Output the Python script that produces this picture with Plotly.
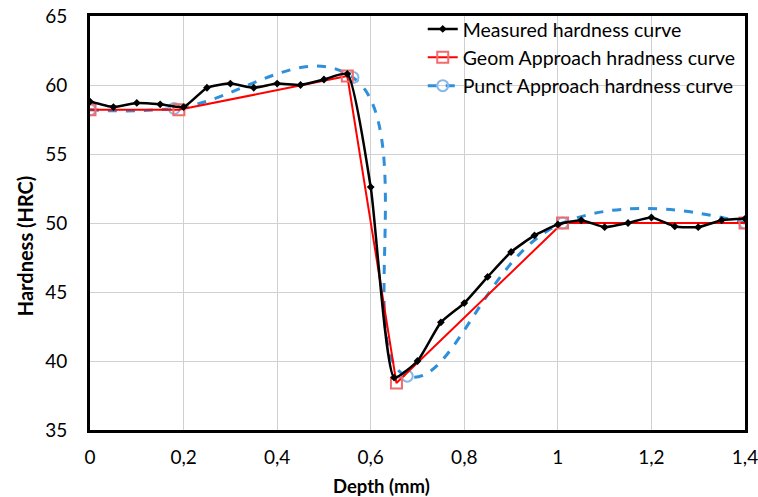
import plotly.graph_objects as go

# Measured hardness curve
meas_x = [0, 0.05, 0.1, 0.15, 0.2, 0.25, 0.3, 0.35, 0.4, 0.45, 0.5, 0.55, 0.6, 0.65,
          0.7, 0.75, 0.8, 0.85, 0.9, 0.95, 1.0, 1.05, 1.1, 1.15, 1.2, 1.25, 1.3, 1.35, 1.4]
meas_y = [58.8, 58.4, 58.7, 58.6, 58.4, 59.8, 60.1, 59.8, 60.1, 60.0, 60.4, 60.8, 52.6, 38.8,
          40.0, 42.8, 44.2, 46.1, 47.9, 49.1, 49.9, 50.2, 49.7, 50.0, 50.4, 49.75, 49.7, 50.2, 50.3]

# Geom approach
geom_x = [0, 0.19, 0.55, 0.655, 1.01, 1.4]
geom_y = [58.2, 58.2, 60.65, 38.4, 50.0, 50.0]

# Punct approach
punct_x = [0, 0.18, 0.562, 0.678, 1.01, 1.4]
punct_y = [58.2, 58.3, 60.55, 38.9, 50.0, 50.0]

x_ticks = [0, 0.2, 0.4, 0.6, 0.8, 1.0, 1.2, 1.4]
y_ticks = [35, 40, 45, 50, 55, 60, 65]

FONT = "Lato, 'Open Sans', sans-serif"

fig = go.Figure()
fig.add_trace(go.Scatter(
    x=punct_x, y=punct_y, name="Punct Approach hardness curve", mode="lines+markers",
    line=dict(color="#2F8FDA", width=3, dash="dash", shape="spline", smoothing=1.3),
    marker=dict(symbol="circle-open", size=11, color="#86B8E8", line=dict(width=2)),
    legendrank=3))
fig.add_trace(go.Scatter(
    x=geom_x, y=geom_y, name="Geom Approach hradness curve", mode="lines+markers",
    line=dict(color="#FF0000", width=2),
    marker=dict(symbol="square-open", size=11, color="#F26A6A", line=dict(width=2)),
    legendrank=2))
fig.add_trace(go.Scatter(
    x=meas_x, y=meas_y, name="Measured hardness curve", mode="lines+markers",
    line=dict(color="#000000", width=2.5, shape="spline", smoothing=0.5),
    marker=dict(symbol="diamond", size=6, color="#000000"),
    legendrank=1))

# plot area: x 90..745, y 16..430 (page pixels)
fig.update_layout(
    width=758, height=497,
    margin=dict(l=90, r=13, t=16, b=67, autoexpand=False),
    paper_bgcolor="white", plot_bgcolor="white",
    separators=",.",
    font=dict(family=FONT, size=19, color="#000000"),
    showlegend=True,
    legend=dict(x=0.508, y=1.015, xanchor="left", yanchor="top",
                bgcolor="rgba(0,0,0,0)", font=dict(size=19.5),
                tracegroupgap=0, itemwidth=30),
    annotations=[
        dict(text="<b>Depth (mm)</b>", xref="paper", yref="paper", x=0.4458, y=-0.135,
             xanchor="center", yanchor="middle", showarrow=False, font=dict(size=18.5)),
        dict(text="<b>Hardness (HRC)</b>", xref="paper", yref="paper", x=-0.0992, y=0.444,
             xanchor="center", yanchor="middle", showarrow=False, textangle=-90,
             font=dict(size=20)),
    ],
)
fig.update_xaxes(
    range=[0, 1.4], tickvals=x_ticks, showgrid=True, gridcolor="#D0D0D0", gridwidth=1,
    showline=True, linecolor="#000000", linewidth=3, mirror=True, ticks="",
    zeroline=False, ticklabelstandoff=8, automargin=False, ticklabeloverflow="allow",
)
fig.update_yaxes(
    range=[35, 65], tickvals=y_ticks, showgrid=True, gridcolor="#D0D0D0", gridwidth=1,
    showline=True, linecolor="#000000", linewidth=3, mirror=True, ticks="",
    zeroline=False, ticklabelstandoff=16, automargin=False, ticklabeloverflow="allow",
)

fig.write_html("out.html", config={"displayModeBar": False},
               post_script="document.body.style.margin='0';document.body.style.overflow='hidden';")
